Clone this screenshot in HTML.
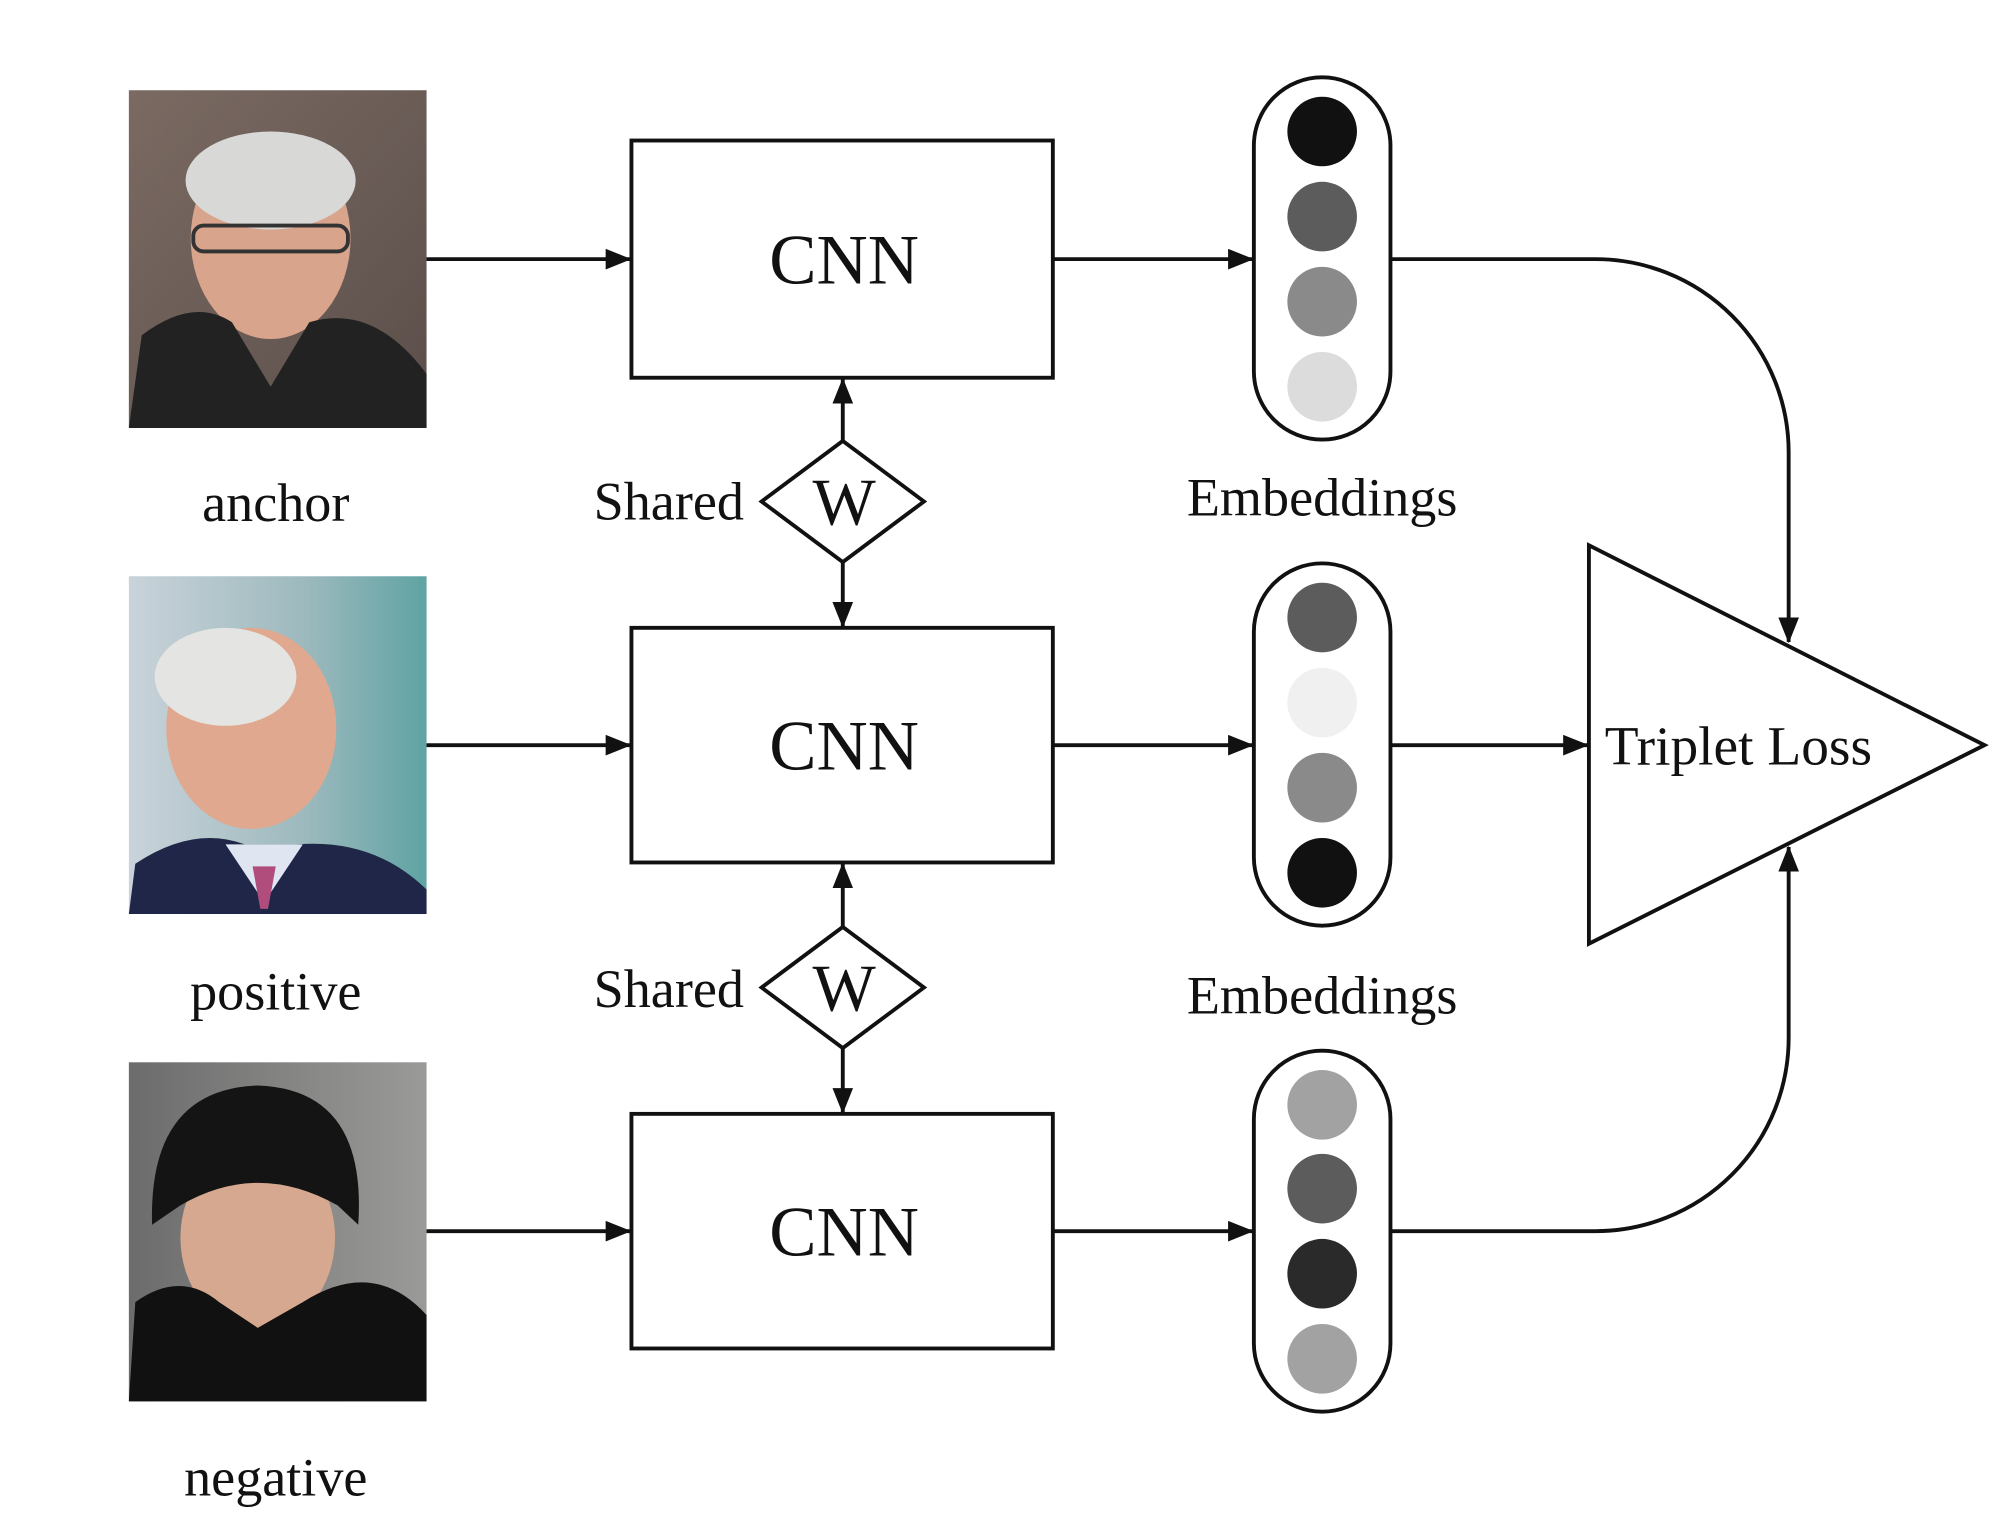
<!DOCTYPE html>
<html><head><meta charset="utf-8"><style>
html,body{margin:0;padding:0;background:#fff;}
svg{display:block;}
text{font-family:"Liberation Serif",serif;fill:#111;}
</style></head><body>
<svg width="2000" height="1538" viewBox="0 0 1552 1193" preserveAspectRatio="none" xmlns="http://www.w3.org/2000/svg">
<defs>
<marker id="ah" markerWidth="20" markerHeight="16" refX="19" refY="8" orient="auto" markerUnits="userSpaceOnUse" viewBox="0 0 20 16">
<path d="M0,0 L20,8 L0,16 z" fill="#111"/>
</marker>
<linearGradient id="bg1" x1="0" y1="0" x2="1" y2="1"><stop offset="0" stop-color="#7a6a62"/><stop offset="1" stop-color="#5b4e4a"/></linearGradient>
<linearGradient id="bg2" x1="0" y1="0" x2="1" y2="0"><stop offset="0" stop-color="#c9d3da"/><stop offset="0.6" stop-color="#9cb9bd"/><stop offset="1" stop-color="#5fa3a3"/></linearGradient>
<linearGradient id="bg3" x1="0" y1="0" x2="1" y2="0"><stop offset="0" stop-color="#6c6c6c"/><stop offset="1" stop-color="#9a9a98"/></linearGradient>
</defs>
<rect width="1552" height="1193" fill="#fff"/>

<rect x="100" y="70" width="231" height="262" fill="url(#bg1)"/>
<ellipse cx="210" cy="185" rx="62" ry="78" fill="#d9a48c"/>
<ellipse cx="210" cy="140" rx="66" ry="38" fill="#d8d8d6"/>
<rect x="150" y="175" width="120" height="20" rx="8" fill="none" stroke="#333" stroke-width="3"/>
<path d="M100 332 L110 260 Q150 230 180 250 L210 300 L240 250 Q290 235 331 290 L331 332 Z" fill="#222"/>

<rect x="100" y="447" width="231" height="262" fill="url(#bg2)"/>
<ellipse cx="195" cy="565" rx="66" ry="78" fill="#e0a98f"/>
<ellipse cx="175" cy="525" rx="55" ry="38" fill="#e4e4e2"/>
<path d="M100 709 L105 670 Q150 640 190 655 L230 655 Q290 650 331 690 L331 709 Z" fill="#1f2647"/>
<path d="M175 655 L205 700 L235 655 Z" fill="#dfe6f2"/>
<path d="M196 672 L214 672 L208 705 L202 705 Z" fill="#b04d7d"/>

<rect x="100" y="824" width="231" height="263" fill="url(#bg3)"/>
<ellipse cx="200" cy="960" rx="60" ry="72" fill="#d6a88f"/>
<path d="M118 950 Q115 845 200 842 Q285 845 278 950 L262 935 Q200 900 140 935 Z" fill="#141414"/>
<path d="M100 1087 L105 1010 Q140 985 170 1010 L200 1030 L235 1010 Q290 975 331 1020 L331 1087 Z" fill="#111"/>

<text x="214" y="404" font-size="42" text-anchor="middle">anchor</text>
<text x="214" y="783" font-size="42" text-anchor="middle">positive</text>
<text x="214" y="1160" font-size="42" text-anchor="middle">negative</text>

<g stroke="#111" stroke-width="3" fill="none">
<line x1="331" y1="201" x2="489" y2="201" marker-end="url(#ah)"/>
<line x1="331" y1="578" x2="489" y2="578" marker-end="url(#ah)"/>
<line x1="331" y1="955" x2="489" y2="955" marker-end="url(#ah)"/>
<rect x="490" y="109" width="327" height="184"/>
<rect x="490" y="487" width="327" height="182"/>
<rect x="490" y="864" width="327" height="182"/>
<line x1="817" y1="201" x2="972" y2="201" marker-end="url(#ah)"/>
<line x1="817" y1="578" x2="972" y2="578" marker-end="url(#ah)"/>
<line x1="817" y1="955" x2="972" y2="955" marker-end="url(#ah)"/>
<polygon points="654,342 717,389 654,436 591,389"/>
<polygon points="654,719 717,766 654,813 591,766"/>
<line x1="654" y1="342" x2="654" y2="294" marker-end="url(#ah)"/>
<line x1="654" y1="436" x2="654" y2="486" marker-end="url(#ah)"/>
<line x1="654" y1="719" x2="654" y2="670" marker-end="url(#ah)"/>
<line x1="654" y1="813" x2="654" y2="863" marker-end="url(#ah)"/>
<rect x="973" y="60" width="106" height="281" rx="53"/>
<rect x="973" y="437" width="106" height="281" rx="53"/>
<rect x="973" y="815" width="106" height="280" rx="53"/>
<polygon points="1233,423 1233,732 1540,578"/>
<path d="M1079 201 H1238 A150 150 0 0 1 1388 351 V498" marker-end="url(#ah)"/>
<path d="M1079 955 H1238 A150 150 0 0 0 1388 805 V657" marker-end="url(#ah)"/>
<line x1="1079" y1="578" x2="1232" y2="578" marker-end="url(#ah)"/>
</g>

<circle cx="1026" cy="102" r="27" fill="#111"/>
<circle cx="1026" cy="168" r="27" fill="#5c5c5c"/>
<circle cx="1026" cy="234" r="27" fill="#8a8a8a"/>
<circle cx="1026" cy="300" r="27" fill="#dcdcdc"/>
<circle cx="1026" cy="479" r="27" fill="#5c5c5c"/>
<circle cx="1026" cy="545" r="27" fill="#f0f0f0"/>
<circle cx="1026" cy="611" r="27" fill="#8a8a8a"/>
<circle cx="1026" cy="677" r="27" fill="#111"/>
<circle cx="1026" cy="857" r="27" fill="#a2a2a2"/>
<circle cx="1026" cy="922" r="27" fill="#5c5c5c"/>
<circle cx="1026" cy="988" r="27" fill="#2a2a2a"/>
<circle cx="1026" cy="1054" r="27" fill="#a2a2a2"/>

<text x="655" y="220" font-size="55" text-anchor="middle">CNN</text>
<text x="655" y="597" font-size="55" text-anchor="middle">CNN</text>
<text x="655" y="974" font-size="55" text-anchor="middle">CNN</text>
<text x="655" y="407" font-size="52" text-anchor="middle">W</text>
<text x="655" y="784" font-size="52" text-anchor="middle">W</text>
<text x="519" y="403" font-size="42" text-anchor="middle">Shared</text>
<text x="519" y="781" font-size="42" text-anchor="middle">Shared</text>
<text x="1026" y="400" font-size="42" text-anchor="middle">Embeddings</text>
<text x="1026" y="786" font-size="42" text-anchor="middle">Embeddings</text>
<text x="1349" y="593" font-size="43" text-anchor="middle">Triplet Loss</text>
</svg>
</body></html>
